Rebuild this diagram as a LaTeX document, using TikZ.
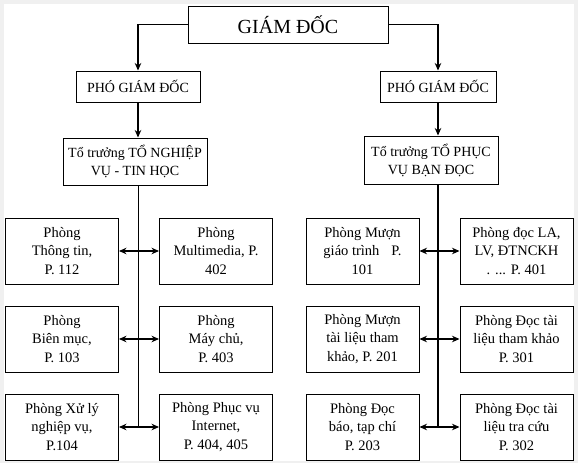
\documentclass[tikz,border=0pt]{standalone}
\usepackage{fontspec}
\setmainfont{Liberation Serif}
\usetikzlibrary{arrows.meta, positioning}

\tikzset{
  box/.style={draw, line width=1pt, align=center, inner sep=0pt,
    font=\fontsize{14}{18}\selectfont},
  room/.style={box, minimum width=113pt, minimum height=66pt,
    font=\fontsize{14.5}{18.3}\selectfont},
  link/.style={line width=1.1pt},
}

\begin{document}
\begin{tikzpicture}[x=1pt, y=-1pt, >={Stealth[length=7.5pt,width=6.5pt]}]

            \useasboundingbox (0,0) rectangle (578,463);
            \fill[gray!12] (0,0) rectangle (578,463);
            \fill[white] (4,4) rectangle (574,461);

            \node[box, minimum width=200pt, minimum height=37pt, font=\fontsize{20}{24}\selectfont] (gd) at (288,24.5) {GIÁM ĐỐC};

            \node[box, minimum width=124pt, minimum height=31pt] (pgdL) at (138,86.5) {PHÓ GIÁM ĐỐC};
            \node[box, minimum width=116pt, minimum height=31pt] (pgdR) at (438,86.5) {PHÓ GIÁM ĐỐC};

            \node[box, minimum width=144pt, minimum height=47pt] (ttL) at (135,161.5) {Tổ trưởng TỔ NGHIỆP\\VỤ - TIN HỌC};
            \node[box, minimum width=134pt, minimum height=48pt] (ttR) at (431,160) {Tổ trưởng TỔ PHỤC\\VỤ BẠN ĐỌC};

            % Rooms, left group
            \node[room] (L1) at (62,251) {Phòng\\Thông tin,\\P. 112};
            \node[room] (L2) at (216,251) {Phòng\\Multimedia, P.\\402};
            \node[room] (L3) at (62,339) {Phòng\\Biên mục,\\P. 103};
            \node[room] (L4) at (216,339) {Phòng\\Máy chủ,\\P. 403};
            \node[room] (L5) at (62,427) {Phòng Xử lý\\nghiệp vụ,\\P.104};
            \node[room] (L6) at (216,427) {Phòng Phục vụ\\Internet,\\P. 404, 405};

            % Rooms, right group
            \node[room] (R1) at (362.5,251) {Phòng Mượn\\giáo trình\hspace{12pt}P.\\101};
            \node[room] (R2) at (516.5,251) {Phòng đọc LA,\\LV, ĐTNCKH\\. ... P. 401};
            \node[room] (R3) at (362.5,339) {Phòng Mượn\\tài liệu tham\\khảo, P. 201};
            \node[room] (R4) at (516.5,339) {Phòng Đọc tài\\liệu tham khảo\\P. 301};
            \node[room] (R5) at (362.5,427) {Phòng Đọc\\báo, tạp chí\\P. 203};
            \node[room] (R6) at (516.5,427) {Phòng Đọc tài\\liệu tra cứu\\P. 302};

            % Connections: director to deputies
            \draw[->, link] (gd.west) -| (pgdL.north);
            \draw[->, link] (gd.east) -| (pgdR.north);
            \draw[->, link] (pgdL.south) -- (pgdL.south |- ttL.north);
            \draw[->, link] (pgdR.south) -- (pgdR.south |- ttR.north);

            % Spines down to the rooms
            \draw[line width=0.7pt] (pgdL.south |- ttL.south) -- (pgdL.south |- L5.east);
            \draw[line width=1.1pt] (pgdR.south |- ttR.south) -- (pgdR.south |- R5.east);

            % Connections between rooms
            \foreach \a/\b in {L1/L2, L3/L4, L5/L6, R1/R2, R3/R4, R5/R6}
              \draw[<->, link] (\a.east) -- (\b.west);

        \end{tikzpicture}
\end{document}
